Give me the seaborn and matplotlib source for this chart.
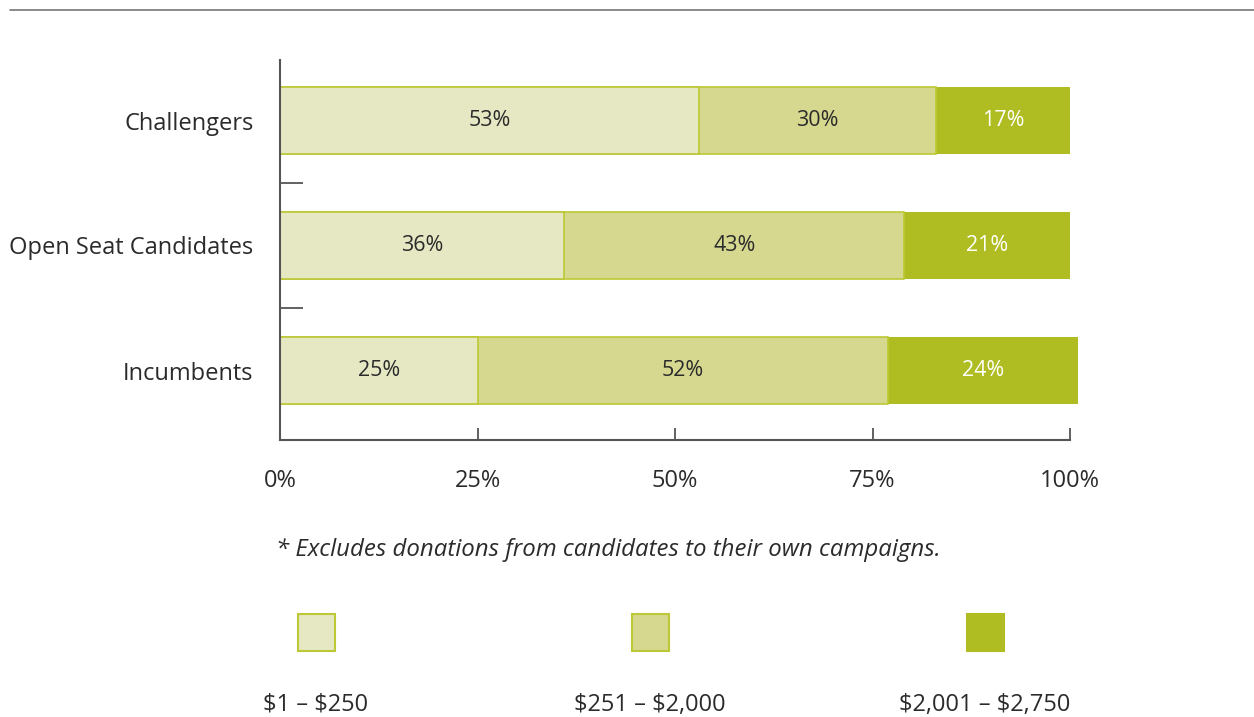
import matplotlib
matplotlib.use("Agg")
import matplotlib.pyplot as plt
import matplotlib.patches as mpatches
import numpy as np
import pandas as pd
import seaborn as sns

# Data
CATEGORIES = ["Challengers", "Open Seat Candidates", "Incumbents"]
SMALL = [53, 36, 25]      # $1 - $250
MEDIUM = [30, 43, 52]     # $251 - $2,000
LARGE = [17, 21, 24]      # $2,001 - $2,750
BRACKETS = ["\\$1 \u2013 \\$250", "\\$251 \u2013 \\$2,000", "\\$2,001 \u2013 \\$2,750"]
X_TICKS = [0, 25, 50, 75, 100]
X_TICK_LABELS = ["0%", "25%", "50%", "75%", "100%"]
FOOTNOTE = "* Excludes donations from candidates to their own campaigns."

# Style
COLORS = ["#E6E8C4", "#D5D88E", "#AFBD22"]
EDGE_COLOR = "#BCC835"
TEXT_COLOR = "#2B2B2B"
AXIS_COLOR = "#555555"
FONT = "Open Sans"
PX = 72 / 100  # points per pixel

sns.set_style("white")
plt.rcParams["font.family"] = [FONT, "DejaVu Sans"]

df = pd.DataFrame({"category": CATEGORIES, "small": SMALL, "medium": MEDIUM, "large": LARGE})
df["cum_medium"] = df["small"] + df["medium"]
df["cum_large"] = df["cum_medium"] + df["large"]

fig = plt.figure(figsize=(12.54, 7.17), dpi=100)
ax = fig.add_axes([280 / 1254, 277 / 717, 790 / 1254, 380 / 717])

# stacked bars drawn back to front (totals first)
layers = [("cum_large", COLORS[2], "none"), ("cum_medium", COLORS[1], EDGE_COLOR), ("small", COLORS[0], EDGE_COLOR)]
for col, color, edge in layers:
    sns.barplot(data=df, x=col, y="category", order=CATEGORIES, color=color,
                edgecolor=edge, linewidth=1.2, width=0.536, orient="h", ax=ax,
                saturation=1, clip_on=False)

for i, row in df.iterrows():
    starts = [0, row["small"], row["cum_medium"]]
    vals = [row["small"], row["medium"], row["large"]]
    for k, (s, v) in enumerate(zip(starts, vals)):
        ax.text(s + v / 2, i, f"{v}%", ha="center", va="center", fontsize=15.5,
                color="white" if k == 2 else TEXT_COLOR)

ax.set_xlim(0, 100)
ax.set_ylim(2.556, -0.484)
ax.set_xlabel("")
ax.set_ylabel("")

ax.set_xticks(X_TICKS)
ax.set_xticklabels(X_TICK_LABELS, fontsize=17, color=TEXT_COLOR)
ax.tick_params(axis="x", bottom=True, direction="in", length=12 * PX, width=1.3, color=AXIS_COLOR, pad=21)

ax.set_yticks([0, 1, 2])
ax.set_yticklabels(CATEGORIES, fontsize=17, color=TEXT_COLOR)
ax.tick_params(axis="y", which="major", left=True, length=0, pad=19)
ax.set_yticks([0.5, 1.5], minor=True)
ax.tick_params(axis="y", which="minor", left=True, direction="in", length=23 * PX, width=1.3, color=AXIS_COLOR)

for side in ["top", "right"]:
    ax.spines[side].set_visible(False)
for side in ["left", "bottom"]:
    ax.spines[side].set_color(AXIS_COLOR)
    ax.spines[side].set_linewidth(1.5)
ax.spines["left"].set_zorder(5)

# top rule
fig.add_artist(plt.Line2D([10 / 1254, 1.0], [707 / 717, 707 / 717], color="#777777", linewidth=1.2))

# footnote
fig.text(276 / 1254, (717 - 550) / 717, FOOTNOTE, fontsize=17.3, style="italic",
         color=TEXT_COLOR, va="center", ha="left")

# legend
centers = [316, 650, 985]
for cx, color, label in zip(centers, COLORS, BRACKETS):
    edge = EDGE_COLOR if color != COLORS[2] else COLORS[2]
    fig.add_artist(mpatches.Rectangle(((cx - 18) / 1254, (717 - 651) / 717), 37 / 1254, 37 / 717,
                                      facecolor=color, edgecolor=edge, linewidth=1.5))
    fig.text(cx / 1254, (717 - 705) / 717, label, fontsize=17, color=TEXT_COLOR,
             ha="center", va="center")

plt.savefig("out.png", dpi=100, facecolor="white")
